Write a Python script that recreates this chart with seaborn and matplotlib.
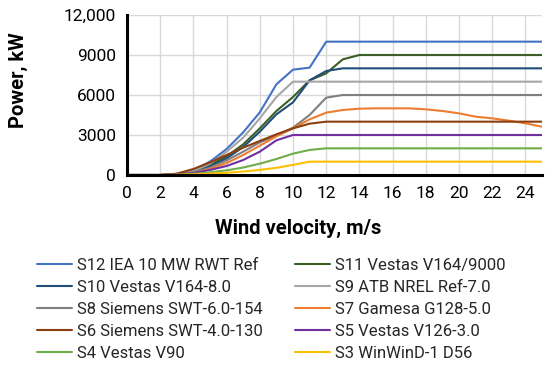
import numpy as np
import pandas as pd
import matplotlib
matplotlib.use("Agg")
import matplotlib.pyplot as plt
import seaborn as sns

wind = [0, 1, 2, 3, 4, 5, 6, 7, 8, 9, 10, 11, 12, 13, 14, 15, 16, 17, 18, 19, 20, 21, 22, 23, 24, 25]

s12 = [0, 0, 0, 80, 360, 1000, 1950, 3200, 4700, 6800, 7900, 8050, 10000, 10000, 10000, 10000, 10000, 10000, 10000, 10000, 10000, 10000, 10000, 10000, 10000, 10000]
s11 = [0, 0, 0, 50, 250, 750, 1400, 2300, 3500, 4800, 5850, 7100, 7625, 8675, 9000, 9000, 9000, 9000, 9000, 9000, 9000, 9000, 9000, 9000, 9000, 9000]
s10 = [0, 0, 0, 40, 200, 650, 1250, 2100, 3250, 4550, 5450, 7100, 7800, 8000, 8000, 8000, 8000, 8000, 8000, 8000, 8000, 8000, 8000, 8000, 8000, 8000]
s9 = [0, 0, 0, 60, 300, 850, 1750, 2800, 4250, 5850, 7000, 7000, 7000, 7000, 7000, 7000, 7000, 7000, 7000, 7000, 7000, 7000, 7000, 7000, 7000, 7000]
s8 = [0, 0, 0, 40, 200, 550, 1100, 1750, 2450, 2950, 3550, 4500, 5800, 6000, 6000, 6000, 6000, 6000, 6000, 6000, 6000, 6000, 6000, 6000, 6000, 6000]
s7 = [0, 0, 0, 30, 150, 450, 900, 1500, 2200, 2900, 3500, 4175, 4675, 4875, 4975, 5000, 5000, 5000, 4925, 4800, 4625, 4375, 4250, 4075, 3875, 3625]
s6 = [0, 0, 0, 100, 450, 950, 1500, 2050, 2550, 3050, 3500, 3850, 4000, 4000, 4000, 4000, 4000, 4000, 4000, 4000, 4000, 4000, 4000, 4000, 4000, 4000]
s5 = [0, 0, 0, 30, 150, 375, 675, 1125, 1750, 2600, 3000, 3000, 3000, 3000, 3000, 3000, 3000, 3000, 3000, 3000, 3000, 3000, 3000, 3000, 3000, 3000]
s4 = [0, 0, 0, 15, 80, 200, 350, 560, 850, 1200, 1600, 1880, 2000, 2000, 2000, 2000, 2000, 2000, 2000, 2000, 2000, 2000, 2000, 2000, 2000, 2000]
s3 = [0, 0, 0, 10, 50, 100, 170, 260, 380, 540, 760, 1000, 1000, 1000, 1000, 1000, 1000, 1000, 1000, 1000, 1000, 1000, 1000, 1000, 1000, 1000]

names = ["S12 IEA 10 MW RWT Ref", "S11 Vestas V164/9000", "S10 Vestas V164-8.0",
         "S9 ATB NREL Ref-7.0", "S8 Siemens SWT-6.0-154", "S7 Gamesa G128-5.0",
         "S6 Siemens SWT-4.0-130", "S5 Vestas V126-3.0", "S4 Vestas V90",
         "S3 WinWinD-1 D56"]
series = [s12, s11, s10, s9, s8, s7, s6, s5, s4, s3]
colors = ["#4472C4", "#3B5E26", "#1F4E79", "#A5A5A5", "#7F7F7F",
          "#ED7D31", "#8B3E10", "#7030A0", "#70AD47", "#FFC000"]

yticks = [0, 3000, 6000, 9000, 12000]
ytick_labels = ["0", "3000", "6000", "9000", "12,000"]
xticks = [0, 2, 4, 6, 8, 10, 12, 14, 16, 18, 20, 22, 24]

rows = []
for n, s in zip(names, series):
    for w, p in zip(wind, s):
        rows.append((n, w, p))
df = pd.DataFrame(rows, columns=["series", "wind", "power"])

sns.set_theme(style="white")
plt.rcParams["font.family"] = ["Roboto", "DejaVu Sans"]

fig = plt.figure(figsize=(5.5, 3.67), dpi=100)
ax = fig.add_axes([127 / 550, 1 - 175 / 367, (542 - 127) / 550, 160 / 367])

sns.lineplot(data=df, x="wind", y="power", hue="series", hue_order=names,
             palette=dict(zip(names, colors)), estimator=None, legend=False,
             linewidth=1.5, ax=ax)

ax.set_xlim(0, 25)
ax.set_ylim(0, 12000)
ax.set_xticks(xticks)
ax.set_xticklabels([str(x) for x in xticks])
ax.set_yticks(yticks)
ax.set_yticklabels(ytick_labels)
ax.grid(True, color="#D9D9D9", linewidth=1.0)
ax.set_axisbelow(True)
for sp in ["top", "right"]:
    ax.spines[sp].set_visible(False)
for sp in ["left", "bottom"]:
    ax.spines[sp].set_color("black")
    ax.spines[sp].set_linewidth(2.2)
ax.tick_params(axis="both", which="major", direction="out", length=5, width=2,
               color="black", labelsize=12.5, labelcolor="black", pad=3)

ax.set_xlabel("Wind velocity, m/s", fontsize=14.5, fontweight="bold", color="black")
ax.set_ylabel("Power, kW", fontsize=14.5, fontweight="bold", color="black")
ax.xaxis.set_label_coords((298 - 127) / 415, -0.275)
ax.yaxis.set_label_coords(-(127 - 28) / 415, 0.594)

lines = ax.get_lines()[:len(names)]
order = [0, 2, 4, 6, 8, 1, 3, 5, 7, 9]
fig.legend([lines[i] for i in order], [names[i] for i in order],
           loc="upper left", bbox_to_anchor=(37 / 550, 1 - 258 / 367),
           ncol=2, frameon=False, fontsize=12, handlelength=2.1,
           handletextpad=0.3, columnspacing=1.9, labelspacing=0.42,
           borderaxespad=0, borderpad=0)

fig.savefig("out.png", dpi=100)
